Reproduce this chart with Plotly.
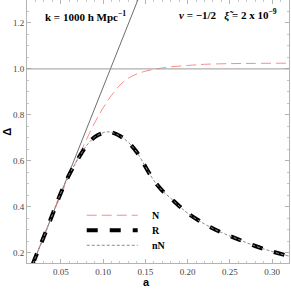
import plotly.graph_objects as go

# ---- data ----
a_line = [0.01, 0.15]
delta_line = [0.087, 1.382]

a_R = [0.017, 0.02, 0.03, 0.04, 0.05, 0.06, 0.07, 0.08, 0.09, 0.10, 0.105, 0.11, 0.12,
       0.13, 0.14, 0.15, 0.16, 0.17, 0.18, 0.19, 0.20, 0.22, 0.24, 0.26, 0.28, 0.30, 0.32]
R_vals = [0.152, 0.180, 0.270, 0.365, 0.460, 0.540, 0.606, 0.664, 0.703, 0.722, 0.726, 0.724, 0.708,
          0.680, 0.637, 0.575, 0.515, 0.470, 0.437, 0.403, 0.372, 0.325, 0.288, 0.258, 0.229, 0.205, 0.185]
nN_vals = list(R_vals)

a_N = [0.017, 0.02, 0.03, 0.04, 0.05, 0.06, 0.07, 0.08, 0.09, 0.10, 0.11, 0.12, 0.13, 0.14,
       0.15, 0.16, 0.17, 0.18, 0.20, 0.22, 0.25, 0.28, 0.32]
N_vals = [0.152, 0.180, 0.272, 0.362, 0.450, 0.535, 0.610, 0.690, 0.765, 0.830, 0.885, 0.930, 0.960, 0.978,
          0.990, 0.998, 1.004, 1.009, 1.015, 1.020, 1.023, 1.024, 1.025]

ref_level = 1.0
legend_names = ["N", "R", "nN"]

SERIF = '"Liberation Serif", "Times New Roman", "DejaVu Serif", serif'
SANS = '"Liberation Sans", Arial, sans-serif'

fig = go.Figure()
fig.add_trace(go.Scatter(x=a_line, y=delta_line, mode="lines",
                         line=dict(color="#6e6e6e", width=1), showlegend=False))
fig.add_trace(go.Scatter(x=a_N, y=N_vals, mode="lines", line_shape="spline",
                         line=dict(color="#ff8a8a", width=1, dash="10px,5px"), name="N", showlegend=False))
fig.add_trace(go.Scatter(x=a_R, y=R_vals, mode="lines", line_shape="spline",
                         line=dict(color="black", width=4, dash="11px,12px"), name="R", showlegend=False))
fig.add_trace(go.Scatter(x=a_R, y=nN_vals, mode="lines", line_shape="spline",
                         line=dict(color="#8a8a8a", width=1, dash="3px,2px"), name="nN", showlegend=False))

fig.add_hline(y=ref_level, line=dict(color="#9a9a9a", width=1))

# manual legend
leg_styles = [dict(color="#ff8a8a", width=1, dash="10px,5px"),
              dict(color="black", width=4, dash="11px,12px"),
              dict(color="#8a8a8a", width=1, dash="3px,2px")]
leg_y = [0.1816, 0.1245, 0.0674]
for name, st, yy in zip(legend_names, leg_styles, leg_y):
    fig.add_shape(type="line", xref="paper", yref="paper", x0=0.228, x1=0.4225, y0=yy, y1=yy,
                  line=st)
    fig.add_annotation(xref="paper", yref="paper", x=0.468, y=yy, text=name, showarrow=False,
                       xanchor="left", yanchor="middle",
                       font=dict(family=SERIF, size=10, color="black", weight="bold"))

fig.add_annotation(xref="paper", yref="paper", x=(43 - 27.3) / 262, y=0.939,
                   text="k = 1000 h Mpc<sup>−1</sup>", showarrow=False,
                   xanchor="left", yanchor="middle",
                   font=dict(family=SERIF, size=11, color="black", weight="bold"))
fig.add_annotation(xref="paper", yref="paper", x=(279 - 27.3) / 262, y=0.943,
                   text="<i>ν</i> = −1/2   <i>ξ̃</i> = 2 x 10<sup>−9</sup>", showarrow=False,
                   xanchor="right", yanchor="middle",
                   font=dict(family=SERIF, size=11, color="black", weight="bold"))

# axis titles
fig.add_annotation(xref="paper", yref="paper", x=(147 - 27.3) / 262, y=(262.7 - 282) / 262.7,
                   text="a", showarrow=False, xanchor="center", yanchor="middle",
                   font=dict(family=SANS, size=11, color="black", weight="bold"))
fig.add_annotation(xref="paper", yref="paper", x=(7 - 27.3) / 262, y=(262.7 - 132) / 262.7,
                   text="Δ", showarrow=False, xanchor="center", yanchor="middle", textangle=-90,
                   font=dict(family=SANS, size=11, color="black", weight="bold"))

axis_common = dict(showline=True, linecolor="#b4b4b4", linewidth=1, mirror="allticks",
                   ticks="inside", ticklen=4, tickcolor="#b4b4b4", showgrid=False, zeroline=False,
                   tickfont=dict(family=SERIF, size=9, color="#444444"))

fig.update_xaxes(range=[0.01, 0.32], tick0=0, dtick=0.05, tickformat=".2f",
                 minor=dict(dtick=0.01, tick0=0, ticks="inside", ticklen=2, tickcolor="#c8c8c8"),
                 **axis_common)
fig.update_yaxes(range=[0.155, 1.30], tick0=0, dtick=0.2, tickformat=".1f",
                 minor=dict(dtick=0.05, tick0=0, ticks="inside", ticklen=2, tickcolor="#c8c8c8"),
                 **axis_common)

fig.update_layout(width=291, height=290, margin=dict(l=27, r=2, t=0, b=27, autoexpand=False),
                  paper_bgcolor="white", plot_bgcolor="white", showlegend=False)

fig.write_html("out.html", config={"displayModeBar": False},
               post_script="document.body.style.margin='0';document.body.style.padding='0';")
